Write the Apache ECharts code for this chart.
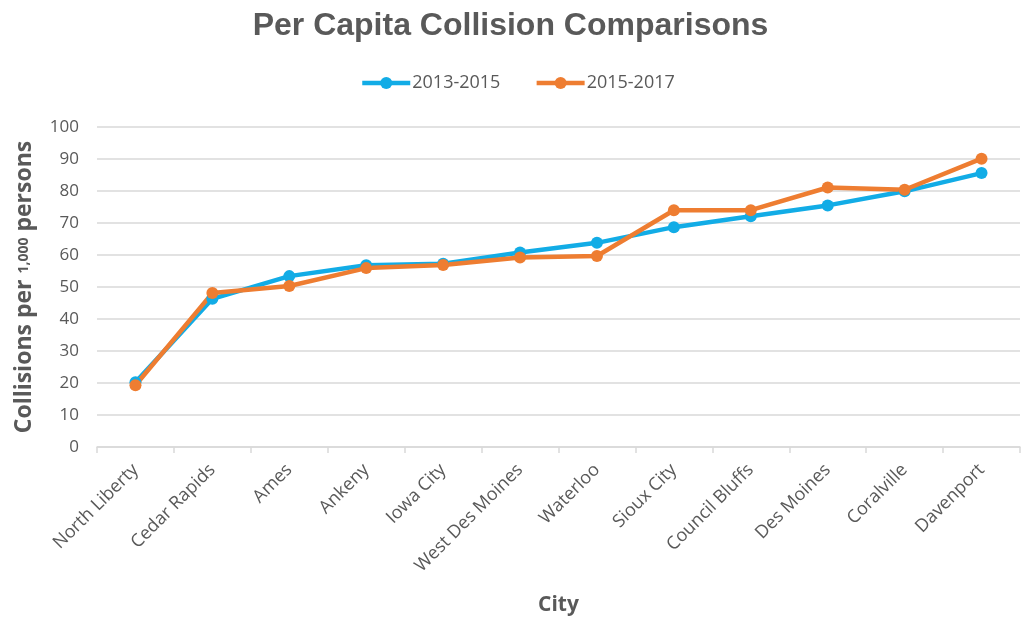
<!DOCTYPE html>
<html>
<head>
<meta charset="utf-8">
<style>
  html, body { margin: 0; padding: 0; background: #fff; }
  #chart { width: 1021px; height: 621px; }
</style>
<script src="https://cdn.jsdelivr.net/npm/echarts@6/dist/echarts.min.js"></script>
</head>
<body>
<div id="chart"></div>
<script>
// City names along the x axis
const cities = ['North Liberty', 'Cedar Rapids', 'Ames', 'Ankeny', 'Iowa City', 'West Des Moines',
  'Waterloo', 'Sioux City', 'Council Bluffs', 'Des Moines', 'Coralville', 'Davenport'];

// Collisions per 1,000 persons for each period
const period2013to2015 = [20.2, 46.3, 53.4, 56.8, 57.3, 60.8, 63.8, 68.7, 72.1, 75.5, 79.9, 85.6];
const period2015to2017 = [19.3, 48.1, 50.3, 55.9, 56.9, 59.2, 59.7, 74.0, 74.0, 81.1, 80.4, 90.1];

const seriesNames = ['2013-2015', '2015-2017'];
const yTicks = { min: 0, max: 100, interval: 10 };

const gray = '#595959';
const blue = '#12ACE6';
const orange = '#EE7D31';
const bodyFont = '"Open Sans", "Noto Sans", sans-serif';

const chart = echarts.init(document.getElementById('chart'), null, { renderer: 'canvas' });

function lineSeries(name, data, color) {
  return {
    name: name,
    type: 'line',
    data: data,
    symbol: 'circle',
    symbolSize: 12,
    lineStyle: { color: color, width: 4.5 },
    itemStyle: { color: color },
    emphasis: { disabled: true }
  };
}

chart.setOption({
  animation: false,
  title: {
    text: 'Per Capita Collision Comparisons',
    left: 'center',
    top: 5,
    textStyle: { fontFamily: '"Liberation Sans", sans-serif', fontWeight: 'bold', fontSize: 32, color: gray }
  },
  legend: {
    top: 69,
    left: 355,
    itemWidth: 48,
    itemHeight: 15,
    itemGap: 34,
    lineStyle: { width: 4.5 },
    textStyle: { fontFamily: bodyFont, fontSize: 18, color: gray, padding: [0, 0, 0, -3] },
    data: seriesNames
  },
  grid: { left: 97, right: 1, top: 127, bottom: 172, containLabel: false },
  xAxis: {
    type: 'category',
    data: cities,
    boundaryGap: true,
    name: 'City',
    nameLocation: 'middle',
    nameGap: 148,
    nameTextStyle: { fontFamily: bodyFont, fontWeight: 'bold', fontSize: 21, color: gray },
    axisLine: { lineStyle: { color: '#d9d9d9', width: 1.5 } },
    axisTick: { show: true, length: 6, lineStyle: { color: '#d9d9d9', width: 1.5 } },
    axisLabel: {
      rotate: 45,
      interval: 0,
      margin: 20,
      fontFamily: bodyFont,
      fontSize: 18,
      color: gray
    },
    splitLine: { show: false }
  },
  yAxis: {
    type: 'value',
    min: yTicks.min,
    max: yTicks.max,
    interval: yTicks.interval,
    name: '{big|Collisions per }{small|1,000}{big| persons}',
    nameLocation: 'middle',
    nameGap: 61,
    nameTextStyle: {
      rich: {
        big: { fontFamily: bodyFont, fontWeight: 'bold', fontSize: 23, color: gray },
        small: { fontFamily: bodyFont, fontWeight: 'bold', fontSize: 14, color: gray }
      }
    },
    axisLine: { show: false },
    axisTick: { show: false },
    axisLabel: {
      margin: 18,
      fontFamily: bodyFont,
      fontSize: 17,
      color: gray
    },
    splitLine: { lineStyle: { color: '#d9d9d9', width: 1.5 } }
  },
  series: [
    lineSeries(seriesNames[0], period2013to2015, blue),
    lineSeries(seriesNames[1], period2015to2017, orange)
  ]
});
</script>
</body>
</html>
